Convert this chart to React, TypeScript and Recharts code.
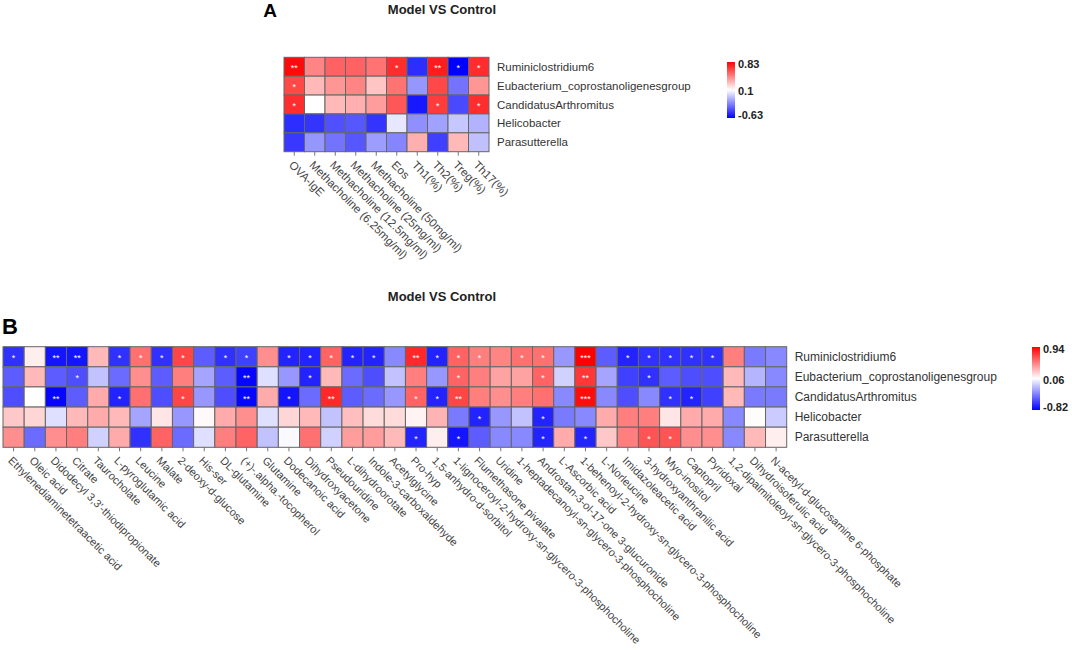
import React from "react";
import { ScatterChart, Scatter, XAxis, YAxis } from "recharts";

// rows are shared by both panels
const bacteria = [
  "Ruminiclostridium6",
  "Eubacterium_coprostanoligenesgroup",
  "CandidatusArthromitus",
  "Helicobacter",
  "Parasutterella",
];

// ---- panel A ----
const aCols = [
  "OVA-IgE",
  "Methacholine (6.25mg/ml)",
  "Methacholine (12.5mg/ml)",
  "Methacholine (25mg/ml)",
  "Methacholine (50mg/ml)",
  "Eos",
  "Th1(%)",
  "Th2(%)",
  "Treg(%)",
  "Th17(%)",
];
const aRumini = [0.8, 0.45, 0.55, 0.55, 0.5, 0.7, -0.5, 0.75, -0.63, 0.7];
const aEubac = [0.62, 0.3, 0.4, 0.45, 0.27, 0.5, -0.2, 0.62, -0.3, 0.4];
const aCandid = [0.7, 0.1, 0.3, 0.33, 0.38, 0.58, -0.56, 0.66, -0.42, 0.7];
const aHelico = [-0.5, -0.48, -0.4, -0.38, -0.48, 0.03, -0.22, -0.17, -0.06, -0.12];
const aParasu = [-0.47, -0.2, -0.3, -0.38, -0.18, -0.25, 0.33, -0.45, 0.3, -0.08];
const aStarsRumini = ["**", "", "", "", "", "*", "", "**", "*", "*"];
const aStarsEubac = ["*", "", "", "", "", "", "", "", "", ""];
const aStarsCandid = ["*", "", "", "", "", "", "", "*", "", "*"];
const aStarsNone = ["", "", "", "", "", "", "", "", "", ""];
const aScale = [-0.63, 0.1, 0.83];

// ---- panel B ----
const bCols = [
  "Ethylenediaminetetraacetic acid",
  "Oleic acid",
  "Didodecyl 3,3'-thiodipropionate",
  "Citrate",
  "Taurocholate",
  "L-pyroglutamic acid",
  "Leucine",
  "Malate",
  "2-deoxy-d-glucose",
  "His-ser",
  "DL-glutamine",
  "(+)-.alpha.-tocopherol",
  "Glutamine",
  "Dodecanoic acid",
  "Dihydroxyacetone",
  "Pseudouridine",
  "L-dihydroorotate",
  "Indole-3-carboxaldehyde",
  "Acetylglycine",
  "Pro-hyp",
  "1,5-anhydro-d-sorbitol",
  "1-lignoceroyl-2-hydroxy-sn-glycero-3-phosphocholine",
  "Flumethasone pivalate",
  "Uridine",
  "1-heptadecanoyl-sn-glycero-3-phosphocholine",
  "Androstan-3-ol-17-one 3-glucuronide",
  "L-Ascorbic acid",
  "1-behenoyl-2-hydroxy-sn-glycero-3-phosphocholine",
  "L-Norleucine",
  "Imidazoleacetic acid",
  "3-hydroxyanthranilic acid",
  "Myo-inositol",
  "Captopril",
  "Pyridoxal",
  "1,2-dipalmitoleoyl-sn-glycero-3-phosphocholine",
  "Dihydroisoferulic acid",
  "N-acetyl-d-glucosamine 6-phosphate",
];
const bRumini = [-0.65, 0.12, -0.75, -0.75, 0.3, -0.65, 0.55, -0.65, 0.7, -0.5, -0.65, -0.6, 0.45, -0.7, -0.7, 0.6, -0.7, -0.7, -0.35, 0.8, -0.7, 0.6, 0.5, 0.48, 0.55, 0.55, -0.3, 0.94, -0.5, -0.7, -0.65, -0.65, -0.65, -0.65, 0.5, -0.4, -0.35];
const bEubac = [-0.5, 0.3, -0.5, -0.55, -0.15, -0.45, 0.45, -0.5, 0.5, -0.25, -0.5, -0.8, -0.05, -0.3, -0.7, 0.3, -0.45, -0.55, -0.15, 0.5, -0.3, 0.6, 0.5, 0.38, 0.38, 0.6, -0.1, 0.75, -0.25, -0.6, -0.65, -0.5, -0.55, -0.55, 0.3, -0.2, -0.35];
const bCandid = [-0.55, 0.06, -0.8, -0.5, 0.35, -0.7, 0.55, -0.55, 0.7, -0.3, -0.55, -0.8, 0.35, -0.75, -0.45, 0.8, -0.5, -0.45, -0.3, 0.6, -0.7, 0.7, 0.5, 0.45, 0.5, 0.55, -0.35, 0.9, -0.35, -0.55, -0.35, -0.65, -0.7, -0.6, 0.3, -0.4, -0.4];
const bHelico = [0.25, 0.2, -0.05, 0.3, 0.35, 0.3, -0.25, 0.15, -0.3, 0.08, 0.35, 0.45, -0.05, 0.2, 0.3, -0.15, 0.28, 0.18, 0.18, 0.1, 0.32, -0.4, -0.7, -0.3, -0.15, -0.7, -0.4, -0.35, 0.35, 0.5, 0.5, 0.15, 0.35, 0.35, -0.35, 0.07, -0.12];
const bParasu = [0.45, -0.45, 0.45, 0.5, -0.1, 0.35, -0.65, 0.6, -0.45, -0.05, 0.5, 0.6, -0.15, 0.04, 0.55, -0.1, 0.4, 0.4, 0.3, -0.7, 0.12, -0.75, -0.5, -0.35, -0.35, -0.7, 0.35, -0.7, 0.25, 0.5, 0.65, 0.65, 0.45, 0.45, -0.35, 0.3, 0.12];
const bStarsRumini = ["*", "", "**", "**", "", "*", "*", "*", "*", "", "*", "*", "", "*", "*", "*", "*", "*", "", "**", "*", "*", "*", "", "*", "*", "", "***", "", "*", "*", "*", "*", "*", "", "", ""];
const bStarsEubac = ["", "", "", "*", "", "", "", "", "", "", "", "**", "", "", "*", "", "", "", "", "", "", "*", "", "", "", "*", "", "**", "", "", "*", "", "", "", "", "", ""];
const bStarsCandid = ["", "", "**", "", "", "*", "", "", "*", "", "", "**", "", "*", "", "**", "", "", "", "*", "*", "**", "", "", "", "", "", "***", "", "", "", "*", "*", "", "", "", ""];
const bStarsHelico = ["", "", "", "", "", "", "", "", "", "", "", "", "", "", "", "", "", "", "", "", "", "", "*", "", "", "*", "", "", "", "", "", "", "", "", "", "", ""];
const bStarsParasu = ["", "", "", "", "", "", "", "", "", "", "", "", "", "", "", "", "", "", "", "*", "", "*", "", "", "", "*", "", "*", "", "", "*", "*", "", "", "", "", ""];
const bScale = [-0.82, 0.06, 0.94];

const FONT = "'Liberation Sans', Arial, sans-serif";

function heatColor(v: number, scale: number[]) {
  const [lo, mid, hi] = scale;
  let r, g, b;
  if (v >= mid) {
    const t = Math.min(1, (v - mid) / (hi - mid));
    r = 255;
    g = Math.round(255 * (1 - t));
    b = Math.round(255 * (1 - t));
  } else {
    const t = Math.min(1, (mid - v) / (mid - lo));
    r = Math.round(255 * (1 - t));
    g = Math.round(255 * (1 - t));
    b = 255;
  }
  return `rgb(${r},${g},${b})`;
}

type HeatProps = {
  cols: string[];
  values: number[][];
  stars: string[][];
  scale: number[];
  top: number; // page y of chart box
  height: number;
  plotLeft: number;
  plotRight: number;
  plotTop: number;
  plotBottom: number;
  colFont: number;
  rowFont: number;
};

const Heatmap = (p: HeatProps) => {
  const nC = p.cols.length;
  const nR = bacteria.length;
  const cellW = (p.plotRight - p.plotLeft) / nC;
  const cellH = (p.plotBottom - p.plotTop) / nR;
  const data: any[] = [];
  p.values.forEach((row, r) =>
    row.forEach((v, c) => data.push({ x: c + 0.5, y: r + 0.5, v, star: p.stars[r][c] }))
  );
  const axisW = 30;
  const axisH = 30;
  const margin = {
    top: p.plotTop - p.top,
    left: p.plotLeft,
    right: 1072 - p.plotRight - axisW,
    bottom: p.top + p.height - p.plotBottom - axisH,
  };
  const localBottom = p.plotBottom - p.top;
  const localRight = p.plotRight;

  const Cell = (props: any) => {
    const { cx, cy, payload } = props;
    return (
      <g>
        <rect
          x={cx - cellW / 2}
          y={cy - cellH / 2}
          width={cellW}
          height={cellH}
          fill={heatColor(payload.v, p.scale)}
          stroke="#666"
          strokeWidth={1}
        />
        {payload.star ? (
          <text x={cx} y={cy + 4.5} textAnchor="middle" fill="#fff" fontSize={9} fontFamily={FONT}>
            {payload.star}
          </text>
        ) : null}
      </g>
    );
  };

  const ColTick = (props: any) => {
    const { x, payload } = props;
    const label = p.cols[Math.floor(payload.value)];
    const ax = x - 6;
    const ay = localBottom + 14;
    return (
      <text
        x={ax}
        y={ay}
        transform={`rotate(45 ${ax} ${ay})`}
        textAnchor="start"
        fontSize={p.colFont}
        fill="#444"
        fontFamily={FONT}
      >
        {label}
      </text>
    );
  };

  const RowTick = (props: any) => {
    const { y, payload } = props;
    return (
      <text
        x={localRight + 8}
        y={y}
        dy={4}
        textAnchor="start"
        fontSize={p.rowFont}
        fill="#333"
        fontFamily={FONT}
      >
        {bacteria[Math.floor(payload.value)]}
      </text>
    );
  };

  return (
    <div style={{ position: "absolute", left: 0, top: p.top }}>
      <ScatterChart width={1072} height={p.height} margin={margin}>
        <XAxis
          type="number"
          dataKey="x"
          domain={[0, nC]}
          ticks={p.cols.map((_, i) => i + 0.5)}
          interval={0}
          height={axisH}
          axisLine={false}
          tickLine={{ stroke: "#777" }}
          tickSize={4}
          tick={<ColTick />}
        />
        <YAxis
          type="number"
          dataKey="y"
          orientation="right"
          reversed
          domain={[0, nR]}
          ticks={bacteria.map((_, i) => i + 0.5)}
          interval={0}
          width={axisW}
          axisLine={false}
          tickLine={false}
          tickSize={0}
          tick={<RowTick />}
        />
        <Scatter data={data} shape={<Cell />} isAnimationActive={false} />
      </ScatterChart>
    </div>
  );
};

const Legend = ({ x, y0, y1, labels, id }: { x: number; y0: number; y1: number; labels: string[]; id: string }) => {
  const ys = [y0 + 2, (y0 + y1) / 2 + 1, y1 - 3];
  return (
    <g>
      <defs>
        <linearGradient id={id} x1="0" y1="0" x2="0" y2="1">
          <stop offset="0%" stopColor="#ff0000" />
          <stop offset="50%" stopColor="#ffffff" />
          <stop offset="100%" stopColor="#0000ff" />
        </linearGradient>
      </defs>
      <rect x={x} y={y0} width={8} height={y1 - y0} fill={`url(#${id})`} />
      {labels.map((l, i) => (
        <text key={l} x={x + 11} y={ys[i]} dy={4} fontSize={11} fontWeight="bold" fill="#222" fontFamily={FONT}>
          {l}
        </text>
      ))}
    </g>
  );
};

export default function App() {
  return (
    <div style={{ position: "absolute", left: 0, top: 0, width: 1072, height: 650, background: "#fff", overflow: "hidden" }}>
      <Heatmap
        cols={aCols}
        values={[aRumini, aEubac, aCandid, aHelico, aParasu]}
        stars={[aStarsRumini, aStarsEubac, aStarsCandid, aStarsNone, aStarsNone]}
        scale={aScale}
        top={0}
        height={300}
        plotLeft={284}
        plotRight={489}
        plotTop={57.3}
        plotBottom={151.7}
        colFont={11.5}
        rowFont={11.5}
      />
      <Heatmap
        cols={bCols}
        values={[bRumini, bEubac, bCandid, bHelico, bParasu]}
        stars={[bStarsRumini, bStarsEubac, bStarsCandid, bStarsHelico, bStarsParasu]}
        scale={bScale}
        top={300}
        height={350}
        plotLeft={3}
        plotRight={786.7}
        plotTop={346.7}
        plotBottom={447.3}
        colFont={11}
        rowFont={12}
      />
      <svg width={1072} height={650} style={{ position: "absolute", left: 0, top: 0, pointerEvents: "none" }}>
        <text x={270} y={17} textAnchor="middle" fontSize={19} fontWeight="bold" fill="#000" fontFamily={FONT}>
          A
        </text>
        <text x={442} y={14} textAnchor="middle" fontSize={13} fontWeight="bold" fill="#222" fontFamily={FONT}>
          Model VS Control
        </text>
        <text x={442} y={301} textAnchor="middle" fontSize={13} fontWeight="bold" fill="#222" fontFamily={FONT}>
          Model VS Control
        </text>
        <text x={2} y={334} textAnchor="start" fontSize={22} fontWeight="bold" fill="#000" fontFamily={FONT}>
          B
        </text>
        <Legend x={727} y0={62} y1={118} labels={["0.83", "0.1", "-0.63"]} id="gradA" />
        <Legend x={1032} y0={347} y1={410} labels={["0.94", "0.06", "-0.82"]} id="gradB" />
      </svg>
    </div>
  );
}
